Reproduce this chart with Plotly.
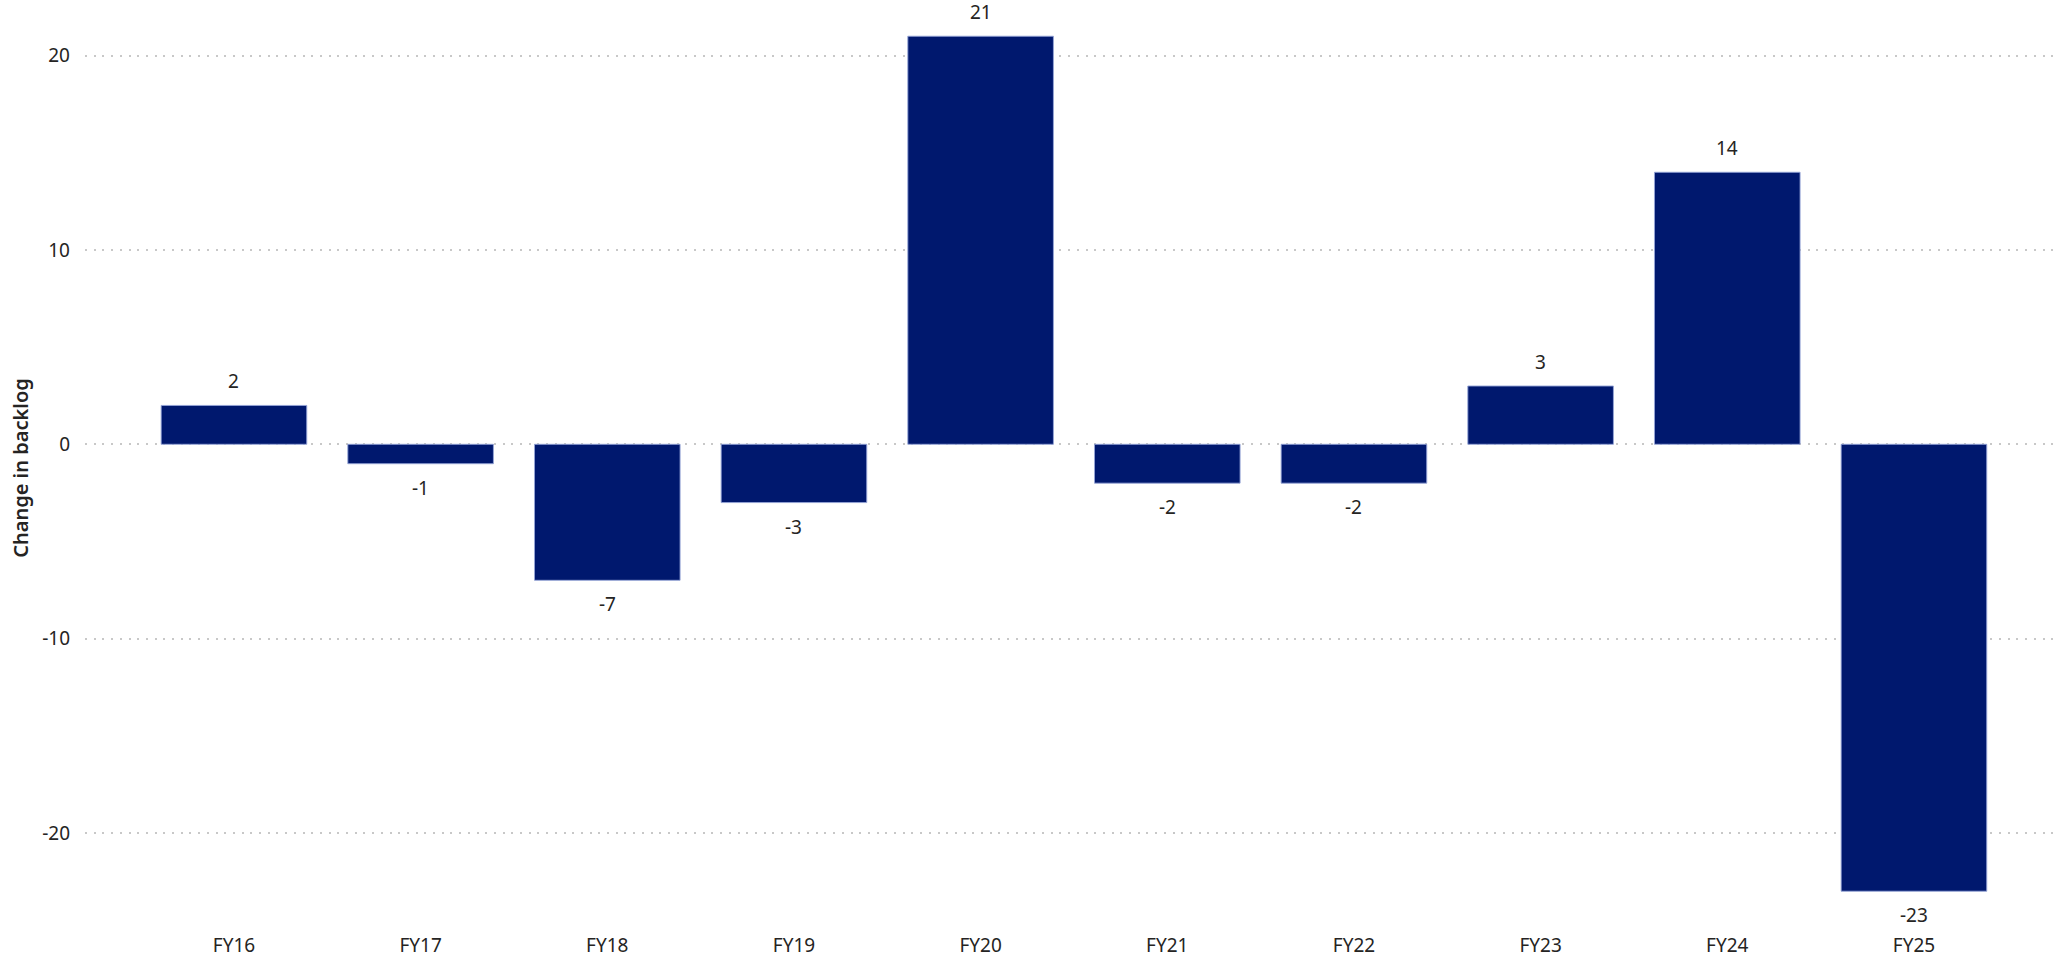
import plotly.graph_objects as go

# Year-on-year change in backlog by financial year
years = ["FY16", "FY17", "FY18", "FY19", "FY20", "FY21", "FY22", "FY23", "FY24", "FY25"]
change = [2, -1, -7, -3, 21, -2, -2, 3, 14, -23]
y_ticks = [-20, -10, 0, 10, 20]
y_tick_labels = ["-20", "-10", "0", "10", "20"]

BAR_COLOR = "#00186E"
TEXT_COLOR = "#252423"
FONT = "Segoe UI, Noto Sans, sans-serif"

fig = go.Figure()
fig.add_trace(go.Bar(
    x=list(range(len(years))),
    y=change,
    marker=dict(color=BAR_COLOR, line=dict(color="rgba(150,165,215,0.9)", width=1)),
    hoverinfo="x+y",
))

# value labels just outside each bar end
for i, v in enumerate(change):
    fig.add_annotation(
        x=i, y=v, text=str(v), showarrow=False,
        yshift=24 if v >= 0 else -24,
        font=dict(family=FONT, size=19, color=TEXT_COLOR),
    )

fig.update_layout(
    width=2059, height=966,
    margin=dict(l=85, r=3, t=10, b=40),
    plot_bgcolor="white", paper_bgcolor="white",
    bargap=0.22,
    showlegend=False,
    font=dict(family=FONT, size=19, color=TEXT_COLOR),
)
fig.update_xaxes(
    tickmode="array", tickvals=list(range(len(years))), ticktext=years,
    range=[-0.798, 9.761],
    showgrid=False, zeroline=False, showline=False,
    ticks="", ticklabelstandoff=6,
    tickfont=dict(family=FONT, size=19, color=TEXT_COLOR),
)
fig.update_yaxes(
    range=[-24.79, 22.35],
    tickmode="array", tickvals=y_ticks, ticktext=y_tick_labels,
    showgrid=True, gridcolor="#c8c8c8", gridwidth=2, griddash="2px,6.7px",
    zeroline=False, showline=False, ticks="",
    ticklabelstandoff=14,
    tickfont=dict(family=FONT, size=19, color=TEXT_COLOR),
    title=dict(text="Change in backlog", standoff=8,
               font=dict(family=FONT, size=20, color=TEXT_COLOR, weight=600)),
)

fig.write_html("out.html")
